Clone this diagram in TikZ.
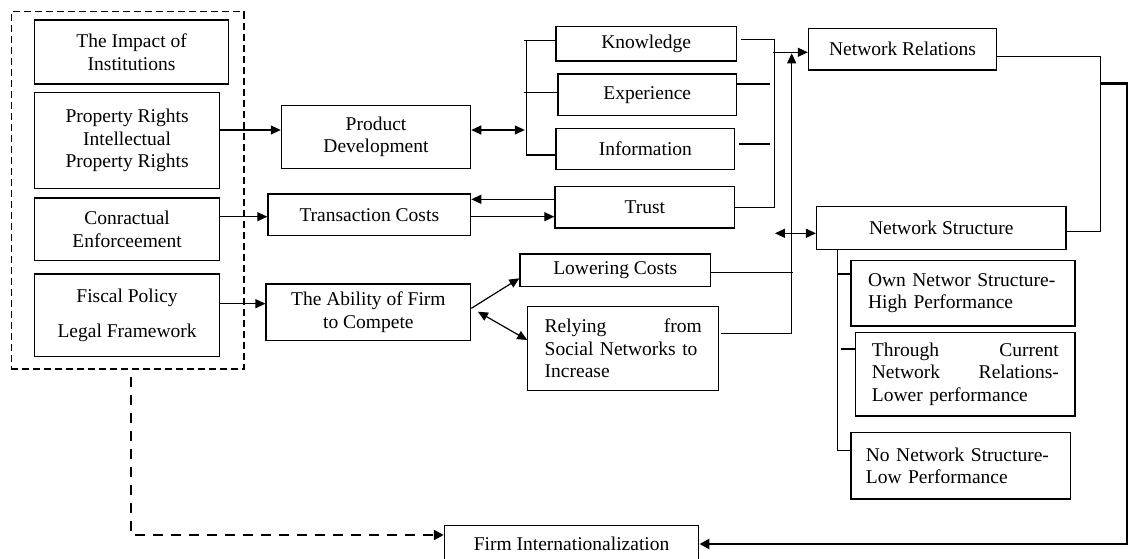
\documentclass[tikz,border=0pt]{standalone}
\usepackage{fontspec}
\setmainfont{Liberation Serif}
\usetikzlibrary{arrows.meta}
\newcommand\diagfont{\fontsize{19.5}{22.5}\selectfont}
\tikzset{
  box/.style={draw, line width=1.2pt, inner sep=0pt, align=center, font=\diagfont},
  sz/.style 2 args={minimum width=#1pt, minimum height=#2pt},
  grp/.style={draw, line width=1.2pt, dash pattern=on 7pt off 4pt, inner sep=0pt},
  ln/.style={line width=1.2pt},
  arr/.style={line width=1.2pt, -{Triangle[length=10pt,width=9pt]}},
  dbl/.style={line width=1.2pt, {Triangle[length=10pt,width=9pt]}-{Triangle[length=10pt,width=9pt]}},
  thk/.style={line width=2.8pt, -{Triangle[length=10pt,width=10pt]}},
  dsh/.style={line width=2.2pt, dash pattern=on 10pt off 8pt, -{Triangle[length=10pt,width=10pt]}}
}
\begin{document}
\begin{tikzpicture}[x=1pt,y=-1pt]
\fill[white] (0,0) rectangle (1128,559);
\useasboundingbox (0,0) rectangle (1128,559);
% left group
\node[grp, sz={232.6}{357.3}] (grp) at (127.7,190.3) {};
\node[box, sz={194}{64}] (imp) at (131.6,52) {The Impact of\\Institutions};
\node[box, sz={185}{95.6}] (prop) at (127.1,140.5) {Property Rights\\Intellectual\\Property Rights};
\node[box, sz={185}{62.7}] (conr) at (127.1,229.3) {Conractual\\Enforceement};
\node[box, sz={185}{82.7}] (fisc) at (127.1,315.3) {Fiscal Policy\\[12pt]Legal Framework};
% middle column
\node[box, sz={189.3}{62.6}] (pd) at (376,137) {Product\\Development};
\node[box, sz={202.8}{41.3}] (tc) at (369.3,214.7) {Transaction Costs};
\node[box, sz={204.7}{56.7}] (abil) at (368.4,312.3) {The Ability of Firm\\to Compete};
% third column
\node[box, sz={180.3}{34.3}] (kn) at (646.2,43.8) {Knowledge};
\node[box, sz={178.3}{41.3}] (exp) at (647.2,94.7) {Experience};
\node[box, sz={178.7}{41}] (inf) at (645.4,148.8) {Information};
\node[box, sz={179.8}{41.3}] (tr) at (644.8,207.3) {Trust};
\node[box, sz={190.8}{32.7}] (lc) at (615.3,270.3) {Lowering Costs};
\node[box, sz={190.8}{84}, text width=157pt, align=left] (rel) at (623.2,348.7) {Relying\hfill from\\Social Networks to\\Increase};
% right column
\node[box, sz={188.2}{41.7}] (nr) at (902.5,49.2) {Network Relations};
\node[box, sz={249.5}{42.6}] (ns) at (941.3,228) {Network Structure};
\node[box, sz={224}{65.3}, text width=190pt, align=left] (own) at (963,293.3) {Own Networ Structure-\\High Performance};
\node[box, sz={219.3}{83.3}, text width=187pt, align=left] (thr) at (965.4,374.3) {Through\hfill Current\\Network\hfill Relations-\\Lower performance};
\node[box, sz={219.7}{66.7}, text width=190pt, align=left] (nonet) at (960.9,465.7) {No Network Structure-\\Low Performance};
\node[box, sz={254.5}{36.6}] (firm) at (571.6,544) {Firm Internationalization};
% left group to middle
\draw[arr] ([yshift=10.5pt]prop.east) -- ([yshift=7pt]pd.west);
\draw[arr] ([yshift=-2pt]conr.east |- tc.west) -- ([yshift=-2pt]tc.west);
\draw[arr] ([yshift=8.6pt]fisc.east |- abil.west) -- ([yshift=8.6pt]abil.west);
% product development bracket
\draw[dbl] ([yshift=7pt]pd.east) -- ++(53.6,0);
\draw[ln] ([yshift=3pt]kn.west) -- ++(-31.2,0);
\draw[ln] ([yshift=2pt]exp.west) -- ++(-33.2,0);
\draw[ln] ([yshift=-6.2pt]inf.west) -| ([xshift=-29pt,yshift=3pt]kn.west);
% trust / transaction costs
\draw[arr] ([yshift=8pt]tr.west) -- ([yshift=15.4pt]tc.east);
\draw[arr] ([yshift=-2pt]tc.east) -- ([yshift=-9.4pt]tr.west);
% merge to network relations
\draw[ln] ([xshift=4pt,yshift=4.5pt]kn.east) -| ([xshift=38.8pt]tr.east) -- (tr.east);
\draw[ln] ([yshift=10.7pt]exp.east) -- ++(32.7,0);
\draw[ln] ([xshift=3.2pt,yshift=4.8pt]inf.east) -- ++(31.1,0);
\draw[arr] ([xshift=-34.9pt,yshift=-3.1pt]nr.west) -- ([yshift=-3.1pt]nr.west);
% ability to lowering / relying
\draw[arr] ([yshift=4pt]abil.east) -- ([yshift=-8pt]lc.west);
\draw[dbl] ([xshift=6.6pt,yshift=0.6pt]abil.east) -- ([yshift=8.7pt]rel.west);
\draw[ln] ([yshift=-2pt]lc.east) -- ++(81.6,0);
\draw[arr] ([xshift=2.2pt,yshift=15.4pt]rel.east) -| ([xshift=-16.1pt,yshift=-4.1pt]nr.west);
% network structure
\draw[dbl] ([yshift=-5.3pt]ns.west) -- ++(-41,0);
\draw[ln] ([yshift=-7.5pt]nr.east) -| ([xshift=33.5pt,yshift=-3.7pt]ns.east) -- ([yshift=-3.7pt]ns.east);
\draw[ln] ([xshift=21.2pt]ns.south west) |- ([yshift=15pt]nonet.west);
\draw[ln] ([yshift=19.3pt]own.west) -- ++(-13.3,0);
\draw[ln] ([yshift=25.3pt]thr.west) -- ++(-14,0);
% outputs to firm internationalization
\draw[thk] ([xshift=103pt,yshift=-34.1pt]nr.east) -- ++(27.3,0) |- (firm.east);
\draw[dsh] ([xshift=3.3pt,yshift=-7.7pt]grp.south) |- ([yshift=9pt]firm.west);
\end{tikzpicture}
\end{document}
